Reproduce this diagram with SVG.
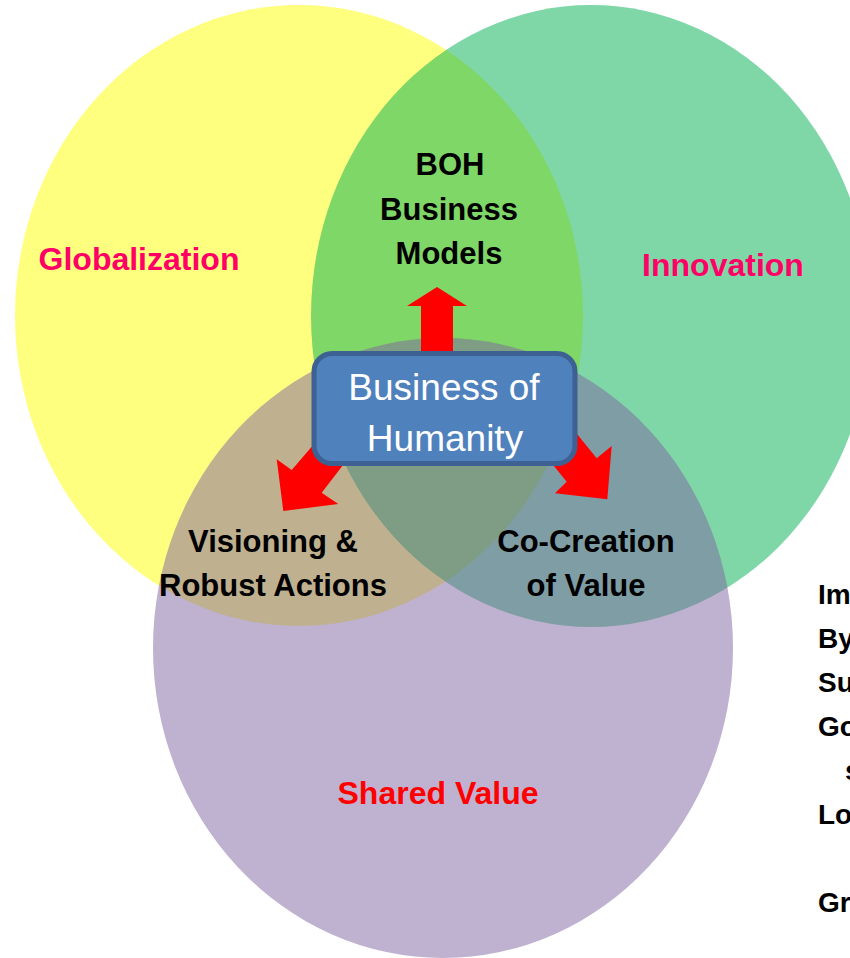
<svg xmlns="http://www.w3.org/2000/svg" width="850" height="958" viewBox="0 0 850 958">
<style>
.lbl{font-family:"Liberation Sans",Arial,sans-serif;font-weight:bold;font-size:31px;fill:#000;text-anchor:middle}
.cat{font-family:"Liberation Sans",Arial,sans-serif;font-weight:bold;font-size:32px;text-anchor:middle}
.side{font-family:"Liberation Sans",Arial,sans-serif;font-weight:bold;font-size:28px;fill:#000}
.box{font-family:"Liberation Sans",Arial,sans-serif;font-size:37px;fill:#fff;text-anchor:middle}
.arr{fill:#FF0000}
</style>
<rect width="850" height="958" fill="#fff"/>
<g id="globalization">
<ellipse cx="299" cy="315.5" rx="284" ry="310.5" fill="#FFFF00" fill-opacity="0.5"/>
</g>
<g id="innovation">
<ellipse cx="591" cy="316" rx="280" ry="311" fill="#00B050" fill-opacity="0.5"/>
</g>
<g id="shared-value">
<ellipse cx="443" cy="648" rx="290" ry="310" fill="#8064A2" fill-opacity="0.5"/>
</g>
<g id="connectors">
<polygon class="arr" points="421,360 421,306 407,306 437,287 467,306 453,306 453,360"/>
<polygon class="arr" points="331.7,423.4 291.7,470 276.7,459.3 283.3,511 338.3,504 321.7,492.7 361.7,440.7"/>
<polygon class="arr" points="558.9,411.7 596.7,458.3 611.7,446 607.3,499.3 555,493.3 566.7,481.7 528.9,435.1"/>
</g>
<g id="business-of-humanity">
<rect x="314" y="353.5" width="261" height="110" rx="18" fill="#4F81BD" stroke="#3D6192" stroke-width="5"/>
<text class="box" x="444" y="400">Business of</text>
<text class="box" x="445" y="451">Humanity</text>
</g>
<g id="labels">
<text class="cat" x="139" y="270" fill="#FF0066">Globalization</text>
<text class="cat" x="723" y="276" fill="#FF0066">Innovation</text>
<text class="cat" x="438" y="804" fill="#FF0000">Shared Value</text>
<text class="lbl" x="450" y="175">BOH</text>
<text class="lbl" x="449" y="220">Business</text>
<text class="lbl" x="449" y="264">Models</text>
<text class="lbl" x="273" y="552">Visioning &amp;</text>
<text class="lbl" x="273" y="596">Robust Actions</text>
<text class="lbl" x="586" y="552">Co-Creation</text>
<text class="lbl" x="586" y="596">of Value</text>
</g>
<g id="side-text">
<text class="side" x="818" y="604">Im</text>
<text class="side" x="818" y="648">By</text>
<text class="side" x="818" y="692">Su</text>
<text class="side" x="818" y="736">Go</text>
<text class="side" x="845" y="780">s</text>
<text class="side" x="818" y="824">Lo</text>
<text class="side" x="818" y="912">Gr</text>
</g>
</svg>
